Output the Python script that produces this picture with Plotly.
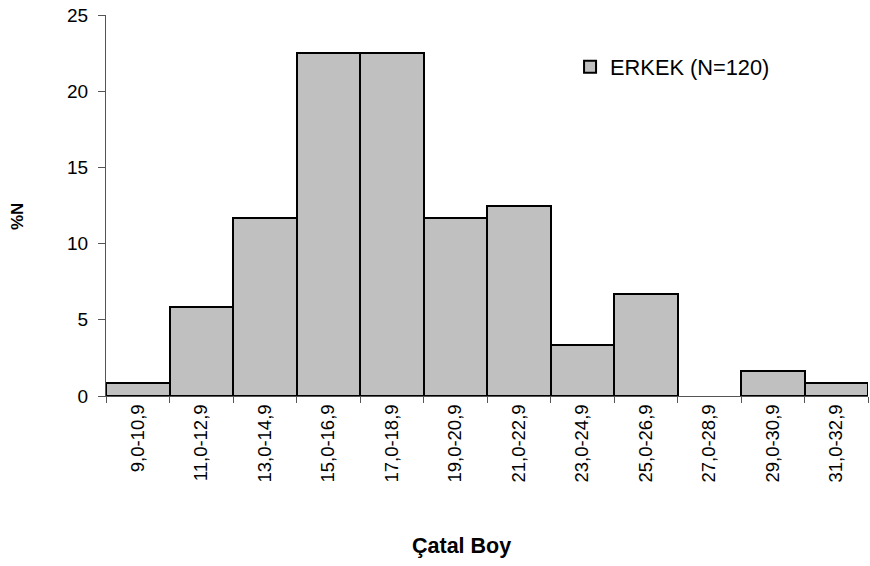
import plotly.graph_objects as go

categories = ["9,0-10,9", "11,0-12,9", "13,0-14,9", "15,0-16,9", "17,0-18,9", "19,0-20,9",
              "21,0-22,9", "23,0-24,9", "25,0-26,9", "27,0-28,9", "29,0-30,9", "31,0-32,9"]
counts = [1, 7, 14, 27, 27, 14, 15, 4, 8, 0, 2, 1]
total_n = 120
percent = [c * 100.0 / total_n for c in counts]
series_name = "ERKEK (N=120)"
y_ticks = [0, 5, 10, 15, 20, 25]
x_title = "Çatal Boy"
y_title = "%N"

font_family = "Liberation Sans, Arial, sans-serif"
line_widths = [2 if v > 0 else 0 for v in percent]

fig = go.Figure()
fig.add_trace(go.Bar(
    x=categories, y=percent, name=series_name,
    marker=dict(color="#C0C0C0", line=dict(color="black", width=line_widths)),
    showlegend=True,
))

fig.update_layout(
    width=870, height=566,
    margin=dict(l=106, r=2, t=15, b=170),
    paper_bgcolor="white", plot_bgcolor="white",
    bargap=0,
    font=dict(family=font_family, size=19, color="black"),
    showlegend=True,
    legend=dict(x=0.609, y=0.8635, xanchor="left", yanchor="middle",
                bgcolor="rgba(0,0,0,0)", font=dict(size=21.8)),
    xaxis=dict(
        type="category", tickangle=-90, tickson="boundaries",
        ticks="outside", ticklen=6, tickcolor="#555555",
        tickfont=dict(size=18.5),
        showline=True, linecolor="#555555", linewidth=1,
        showgrid=False, zeroline=False, automargin=False,
        range=[-0.5, len(categories) - 0.5],
    ),
    yaxis=dict(
        range=[0, 25], tickvals=y_ticks,
        ticks="outside", ticklen=7, tickcolor="#555555",
        tickfont=dict(size=19), ticklabelstandoff=6,
        ticklabeloverflow="allow",
        showline=True, linecolor="#555555", linewidth=1,
        showgrid=False, zeroline=False, automargin=False,
    ),
    annotations=[
        dict(text="<b>" + x_title + "</b>", xref="paper", yref="paper",
             x=0.467, y=-0.394, xanchor="center", yanchor="middle",
             showarrow=False, font=dict(size=21.5)),
        dict(text="<b>" + y_title + "</b>", xref="paper", yref="paper",
             x=-0.117, y=0.472, xanchor="center", yanchor="middle",
             textangle=-90, showarrow=False, font=dict(size=17)),
    ],
)

fig.write_html("out.html", config={"displayModeBar": False},
               post_script="document.body.style.margin='0px';")
